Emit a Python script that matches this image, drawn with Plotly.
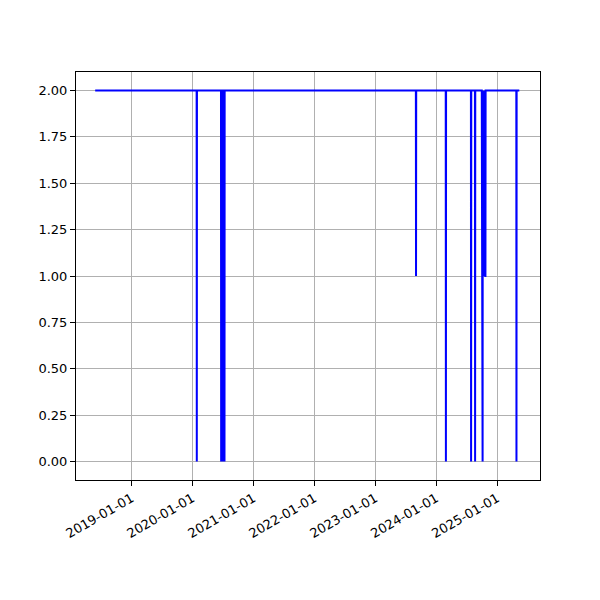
import plotly.graph_objects as go
import pandas as pd

# Time series (daily readings; only change points listed)
dates = [
    "2018-05-28",
    "2020-01-26", "2020-01-27", "2020-01-28",
    "2020-06-20", "2020-06-21", "2020-06-22",
    "2020-06-25", "2020-06-26", "2020-06-27",
    "2020-06-30", "2020-07-01", "2020-07-02",
    "2020-07-05", "2020-07-06", "2020-07-07",
    "2020-07-10", "2020-07-11", "2020-07-12",
    "2023-09-01", "2023-09-02", "2023-09-03",
    "2024-02-27", "2024-02-28", "2024-02-29",
    "2024-07-27", "2024-07-28", "2024-07-29",
    "2024-08-20", "2024-08-21", "2024-08-22",
    "2024-09-30", "2024-10-01", "2024-10-04", "2024-10-05", "2024-10-06",
    "2024-10-09", "2024-10-10", "2024-10-13", "2024-10-14",
    "2024-10-17", "2024-10-18", "2024-10-21", "2024-10-22", "2024-10-23",
    "2025-04-25", "2025-04-26", "2025-04-27",
    "2025-05-13",
]
values = [
    2,
    2, 0, 2,
    2, 0, 2,
    2, 0, 2,
    2, 0, 2,
    2, 0, 2,
    2, 0, 2,
    2, 1, 2,
    2, 0, 2,
    2, 0, 2,
    2, 0, 2,
    2, 1, 2, 0, 2,
    1, 2, 1, 2,
    1, 2, 1, 1, 2,
    2, 0, 2,
    2,
]

y_ticks = [0.0, 0.25, 0.5, 0.75, 1.0, 1.25, 1.5, 1.75, 2.0]
x_range = ["2018-02-02", "2025-09-14"]

x = pd.to_datetime(dates)

fig = go.Figure()
fig.add_trace(go.Scatter(
    x=x, y=values, mode="lines",
    line=dict(color="blue", width=2),
    showlegend=False,
))

axis_common = dict(
    showline=True, linecolor="black", linewidth=1, mirror=True,
    showgrid=True, gridcolor="#b0b0b0", gridwidth=0.8,
    ticks="outside", ticklen=5, tickcolor="black", tickwidth=1,
    zeroline=False,
    tickfont=dict(family="DejaVu Sans", size=13, color="black"),
)

fig.update_xaxes(
    range=x_range, tickformat="%Y-%m-%d", dtick="M12",
    tick0="2019-01-01", tickangle=-30, **axis_common,
)
fig.update_yaxes(
    range=[-0.1, 2.1], tickvals=y_ticks,
    ticktext=[f"{v:.2f}" for v in y_ticks], **axis_common,
)

fig.update_layout(
    width=600, height=600,
    margin=dict(l=68, r=68, t=64, b=128),
    paper_bgcolor="white", plot_bgcolor="white",
    font=dict(family="DejaVu Sans", size=13, color="black"),
)

fig.write_html("out.html")
